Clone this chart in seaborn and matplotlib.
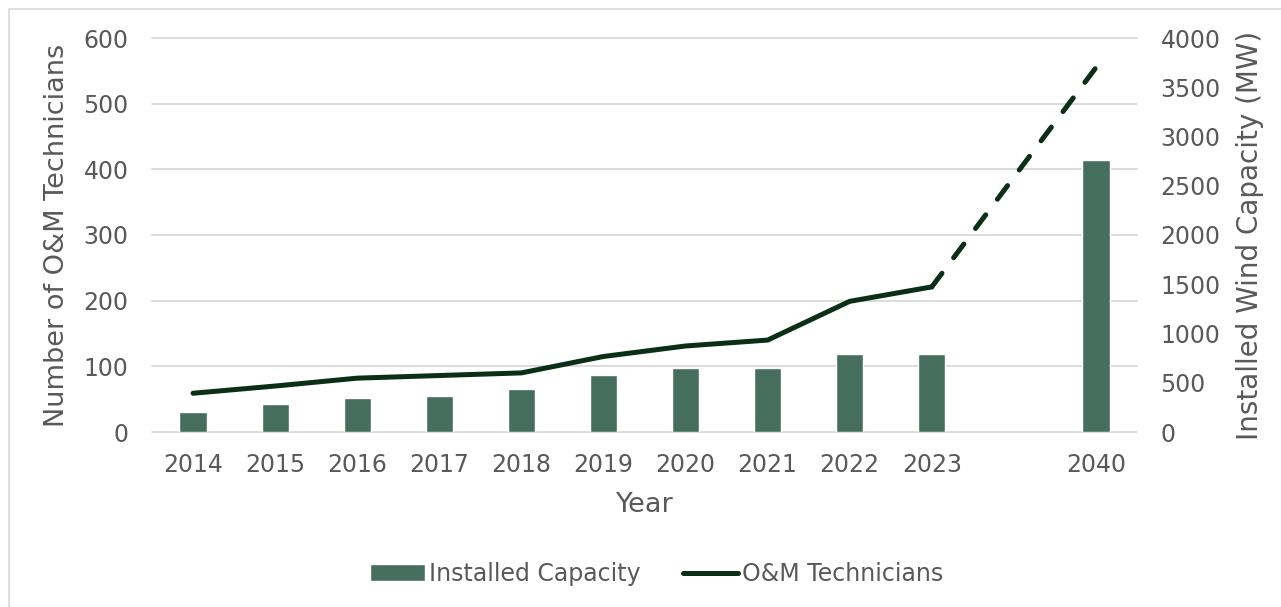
import matplotlib

matplotlib.use("Agg")

import matplotlib.pyplot as plt
import matplotlib.ticker as mticker
import numpy as np
import pandas as pd
import seaborn as sns
from matplotlib.lines import Line2D
from matplotlib.patches import Patch, Rectangle

# ── data ─────────────────────────────────────────────────────────────
years = ["2014", "2015", "2016", "2017", "2018", "2019",
         "2020", "2021", "2022", "2023", " ", "2040"]
capacity_mw = [205, 280, 350, 370, 440, 575, 645, 645, 790, 795, np.nan, 2760]
technicians = [59, 70, 82, 86, 90, 115, 131, 140, 199, 221, np.nan, 555]

TECH_MAX, CAP_MAX = 600, 4000

BAR_COLOR = "#466e5e"
LINE_COLOR = "#0b2e16"
TEXT_COLOR = "#595959"
GRID_COLOR = "#d9d9d9"

sns.set_theme(style="white")
plt.rcParams["font.family"] = ["DejaVu Sans"]

df = pd.DataFrame({"year": years, "capacity": capacity_mw, "techs": technicians})

fig = plt.figure(figsize=(12.81, 6.07), dpi=100)
fig.patches.append(Rectangle((9 / 1281, -0.01), 1.02, 1 - 9 / 607 + 0.01,
                             transform=fig.transFigure, fill=False,
                             edgecolor=GRID_COLOR, linewidth=1.2))

ax = fig.add_axes([152 / 1281, 1 - 432 / 607, 985 / 1281, 394 / 607])
sns.barplot(data=df, x="year", y="capacity", order=years, color=BAR_COLOR,
            width=0.33, saturation=1, ax=ax, zorder=2)
ax.set_ylim(0, CAP_MAX)
ax.set_yticks(range(0, CAP_MAX + 1, 500))
ax.set_xlim(-0.5, len(years) - 0.5)
# gridlines follow the left (technician) axis but sit behind the bars
ax.yaxis.remove_overlapping_locs = False
ax.yaxis.set_minor_locator(mticker.FixedLocator(
    [t * CAP_MAX / TECH_MAX for t in range(0, TECH_MAX + 1, 100)]))
ax.grid(axis="y", which="minor", color=GRID_COLOR, linewidth=1.3, zorder=0,
        clip_on=False)
ax.grid(axis="y", which="major", visible=False)
ax.set_axisbelow(True)

# technicians on the left axis, drawn above the bars
ax2 = ax.twinx()
ax.yaxis.tick_right()
ax.yaxis.set_label_position("right")
ax2.yaxis.tick_left()
ax2.yaxis.set_label_position("left")

pos = np.arange(len(years))
sns.lineplot(x=pos[:10], y=df["techs"].values[:10], color=LINE_COLOR,
             linewidth=3.6, ax=ax2, solid_capstyle="round", solid_joinstyle="round")
ax2.plot([pos[9], pos[11]], [technicians[9], technicians[11]], color=LINE_COLOR,
         linewidth=3.6, dashes=(3.4, 3.9), dash_capstyle="round")
ax2.set_ylim(0, TECH_MAX)
ax2.set_yticks(range(0, TECH_MAX + 1, 100))

ax.set_ylabel("Installed Wind Capacity (MW)", fontsize=20, color=TEXT_COLOR)
ax.yaxis.set_label_coords(1.1005, 0.5)
ax.set_xlabel("Year", fontsize=19.5, color=TEXT_COLOR)
ax.xaxis.set_label_coords(0.5, -0.152)
ax2.set_ylabel("Number of O&M Technicians", fontsize=19.5, color=TEXT_COLOR)
ax2.yaxis.set_label_coords(-0.0832, 0.5)

for a in (ax, ax2):
    for s in a.spines.values():
        s.set_visible(False)
    a.tick_params(which="both", length=0, labelsize=17, labelcolor=TEXT_COLOR, pad=17)
ax.tick_params(axis="x", pad=15)

handles = [Patch(facecolor=BAR_COLOR, label="Installed Capacity"),
           Line2D([0], [0], color=LINE_COLOR, linewidth=3.6,
                  solid_capstyle="round", label="O&M Technicians")]
fig.legend(handles=handles, loc="center", bbox_to_anchor=(657 / 1281, 1 - 574 / 607),
           ncol=2, frameon=False, fontsize=17, labelcolor=TEXT_COLOR,
           handlelength=2.3, handletextpad=0.2, columnspacing=1.8)

fig.savefig("out.png", dpi=100)
